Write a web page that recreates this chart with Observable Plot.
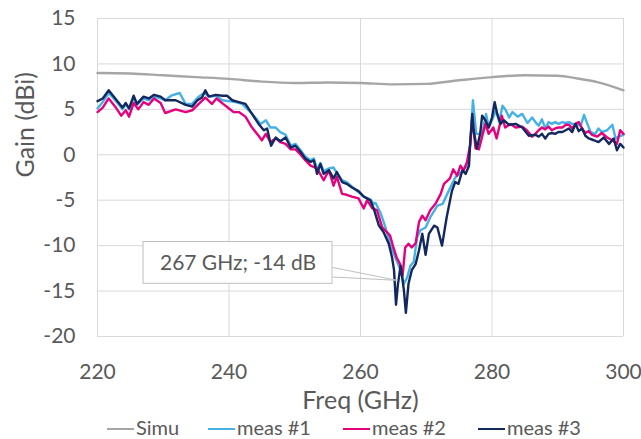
<!DOCTYPE html>
<html>
<head>
<meta charset="utf-8">
<script src="https://cdn.jsdelivr.net/npm/d3@7"></script>
<script src="https://cdn.jsdelivr.net/npm/@observablehq/plot@0.6"></script>
<style>
  html, body { margin: 0; padding: 0; background: #fff; overflow: hidden; }
  #chart { position: relative; width: 641px; height: 439px; }
  #legend { position: absolute; left: 0; top: 416px; width: 641px; height: 23px; font-family: Lato, sans-serif; font-size: 20px; color: #595959; line-height: 23px; }
  .item { position: absolute; top: 0; white-space: nowrap; }
  .sw { display: inline-block; width: 27px; height: 0; border-top: 2.5px solid; vertical-align: middle; margin-right: 2px; position: relative; top: -1px; }
</style>
</head>
<body>
<div id="chart"></div>
<script>
// ---- data ----
const freqTicks = [220, 240, 260, 280, 300];
const gainTicks = [-20, -15, -10, -5, 0, 5, 10, 15];

const simuFreq = [220, 225, 230, 235, 240, 245, 250, 255, 260, 265, 270, 275, 280, 285, 290, 293, 296, 300];
const simuGain = [9.0, 8.95, 8.75, 8.55, 8.35, 8.05, 7.9, 7.95, 7.9, 7.75, 7.8, 8.2, 8.55, 8.75, 8.7, 8.4, 8.0, 7.1];

const meas1Freq = [220,220.8,221.7,222.7,223.8,224.3,224.8,225.5,226,227,227.8,228.6,229.6,230.3,231.2,232.5,233.4,234.4,235.4,236.2,237.2,238,239,240,241,242,243,244,244.8,245.6,246.3,247.1,247.8,248.6,249.4,250.1,250.9,251.6,252.4,252.9,253.4,253.9,254.4,255.2,255.9,256.4,257.2,257.9,258.7,259.7,260.5,261.5,262,262.3,263.1,263.8,264.5,265.3,266.1,266.6,267.1,267.6,268.1,268.6,269.1,269.9,270.6,271.7,272.5,273.4,274.4,275.5,276.3,276.7,277.1,277.6,278.2,278.7,279.1,279.5,280,280.6,281.1,281.6,282.1,282.6,283.1,283.9,284.6,285.4,286.1,286.6,287.1,287.6,288.1,288.6,289.1,289.6,290.1,290.7,291.2,291.7,292.2,292.7,293.5,294,294.5,295,295.7,296.2,296.7,297.5,298.3,298.8,299.3,300];
const meas1Gain = [5.1,5.8,6.8,6.0,5.0,5.6,5.0,6.3,5.5,6.2,6.0,6.4,6.2,6.0,6.5,6.8,5.6,5.6,6.4,6.8,6.4,6.5,6.0,5.9,5.8,5.6,4.9,4.1,3.4,3.8,3.0,3.0,2.5,2.2,1.0,1.2,0.5,-0.2,-0.6,-0.4,-1.6,-0.9,-1.8,-1.5,-1.4,-2.0,-2.8,-3.0,-3.5,-4.1,-4.6,-4.9,-5.4,-5.3,-6.5,-8.0,-9.8,-11.3,-12.7,-14.2,-13.5,-12.2,-11.8,-9.1,-8.3,-8.0,-6.9,-5.6,-5.4,-4.0,-2.5,-1.8,-1.1,1.0,6.0,2.3,2.3,3.0,4.5,3.0,3.8,4.9,3.6,5.4,4.9,4.1,4.7,4.2,4.5,3.5,4.1,3.6,3.2,3.9,2.9,3.6,3.4,3.6,3.4,3.6,3.5,3.6,3.4,3.4,3.2,4.4,3.4,2.5,2.3,2.9,2.5,2.7,3.3,1.8,2.0,2.2];

const meas2Freq = [220,220.8,221.7,222.7,223.6,224.3,224.8,225.5,226.2,227,227.8,228.6,229.6,230.3,231.9,233.4,234.4,235.4,236.4,237.4,238.1,239.1,240,240.7,241.5,242.5,243.5,244.5,245,245.6,246.3,247.1,247.8,248.6,249.4,250.1,250.9,251.6,252.4,253.4,254.4,255.2,255.9,256.4,257.2,257.9,258.7,259.7,260.2,260.5,261,261.8,262.5,263.3,264,264.5,265,265.5,266,266.4,266.8,267.3,267.8,268.4,268.9,269.4,269.9,270.6,271.4,272.2,272.7,273.6,274.1,274.7,275.2,275.7,276.2,276.7,277,277.5,278,278.5,279,279.5,280.2,280.7,281.5,282,282.8,283.6,284.6,285.3,286.1,286.6,287.1,287.6,288.1,288.6,289.1,289.6,290.1,290.7,291.2,291.7,292.2,292.7,293.2,293.7,294.2,294.7,295.2,296,296.7,297.5,298.3,299,299.5,300];
const meas2Gain = [4.7,5.2,6.2,5.3,4.3,4.9,4.2,5.7,5.0,5.8,5.5,6.2,5.7,4.6,5.0,4.7,4.9,5.6,6.3,5.6,6.2,5.6,5.1,4.7,4.7,4.2,3.0,2.1,1.6,2.3,1.4,1.8,1.4,1.2,0.6,0.6,0.0,-0.6,-1.2,-1.5,-2.8,-1.7,-3.4,-2.4,-4.3,-4.4,-4.6,-4.8,-5.5,-5.9,-5.0,-5.9,-6.1,-8.0,-8.5,-8.9,-10.2,-11.3,-12.0,-13.3,-10.2,-9.8,-10.2,-9.7,-7.4,-6.7,-7.2,-6.1,-5.4,-4.3,-3.2,-2.6,-1.6,-2.3,-1.2,-1.7,-0.8,1.2,4.1,0.7,0.6,2.0,3.4,2.3,3.0,1.8,4.3,3.0,3.4,3.0,3.1,2.7,2.0,2.3,2.7,3.0,2.8,3.1,2.7,2.9,3.0,3.0,3.3,3.3,2.9,3.4,3.6,2.9,2.4,2.6,2.2,2.0,2.4,1.9,1.6,1.2,2.7,2.3];

const meas3Freq = [220,220.8,221.7,222.7,223.8,224.3,224.8,225.5,226,227,227.8,228.6,229.6,230.3,231.9,233.4,234.4,235.2,235.9,236.4,236.9,238,239,239.7,240.5,241.5,242.5,243.5,244.5,245.3,245.8,246.4,247.1,247.8,248.6,249.4,250.1,250.9,251.6,252.4,252.9,253.4,253.9,254.4,255.2,255.9,256.4,257.2,257.9,258.7,259.7,260.5,261.5,262,262.8,263.5,264.3,264.8,265.1,265.4,265.7,266.1,266.6,266.9,267.3,267.8,268.4,268.9,269.4,269.9,270.4,271.2,271.7,272.4,273.1,273.9,274.4,274.9,275.5,276,276.5,276.7,277,277.2,277.7,278.2,278.5,279,279.5,280,280.4,280.8,281.3,281.8,282.6,283.6,284.6,285.6,286.6,287.1,287.6,288.1,288.6,289.1,289.6,290.1,290.7,291.2,291.7,292.2,292.7,293.2,293.7,294.2,294.7,295.5,296.2,297,297.8,298.5,299,299.5,300];
const meas3Gain = [5.9,6.2,7.1,6.2,5.2,5.7,5.1,6.5,5.6,6.4,6.2,6.6,6.4,6.0,6.0,5.5,5.3,6.0,6.3,7.1,6.4,6.6,6.5,6.5,6.0,5.8,5.6,4.5,3.4,2.7,2.9,1.0,1.9,1.5,1.9,0.8,1.0,0.3,-0.4,-0.8,-0.6,-2.1,-1.0,-2.1,-1.7,-2.6,-1.9,-3.0,-3.2,-3.6,-4.0,-4.6,-5.0,-5.9,-7.8,-8.5,-9.8,-11.3,-12.7,-16.5,-14.2,-12.2,-14.9,-17.4,-14.2,-12.7,-12.0,-10.5,-8.7,-11.0,-8.7,-7.8,-8.0,-10.0,-6.9,-4.0,-3.0,-3.2,-1.7,-2.1,-1.2,1.6,4.5,2.7,0.7,2.3,4.3,3.8,3.0,4.1,5.8,4.5,3.4,3.8,3.3,3.4,3.0,2.1,2.2,2.0,2.3,1.8,2.3,2.4,2.3,2.5,2.5,2.7,2.9,2.5,3.4,2.6,2.9,2.1,1.8,1.6,1.4,1.9,1.2,1.8,0.5,1.2,0.8];

const seriesNames = ["Simu", "meas #1", "meas #2", "meas #3"];
const seriesColors = ["#a6a6a6", "#45b1e6", "#e5007d", "#13285f"];

// annotation (callout)
const calloutText = ["267 GHz; -14 dB"];
const calloutBoxFreq = [227.0, 255.74];
const calloutBoxGain = [-9.6, -14.2];
const calloutTipFreq = 265.6;
const calloutTipGain = -13.82;
const calloutLeaderGain = [-12.4, -13.45];

// ---- build tables ----
const toRows = (fs, gs) => fs.map((f, i) => ({f, g: gs[i]}));
const simu = toRows(simuFreq, simuGain);
const m1 = toRows(meas1Freq, meas1Gain);
const m2 = toRows(meas2Freq, meas2Gain);
const m3 = toRows(meas3Freq, meas3Gain);

const leaders = calloutLeaderGain.map(g => ({x1: calloutBoxFreq[1], y1: g, x2: calloutTipFreq, y2: calloutTipGain}));
const box = [{x1: calloutBoxFreq[0], x2: calloutBoxFreq[1], y1: calloutBoxGain[0], y2: calloutBoxGain[1], t: calloutText[0]}];

const fmt = d => String(d);

const chart = Plot.plot({
  width: 641,
  height: 412,
  marginLeft: 97,
  marginRight: 18,
  marginTop: 18,
  marginBottom: 76,
  style: {fontFamily: "Lato, sans-serif", fontSize: "21px", color: "#595959", background: "#fff", overflow: "visible"},
  x: {domain: [220, 300], ticks: freqTicks, tickSize: 0, tickPadding: 28, tickFormat: fmt, label: null},
  y: {domain: [-20, 15], ticks: gainTicks, tickSize: 0, tickPadding: 22, tickFormat: fmt, label: null},
  marks: [
    Plot.ruleX(freqTicks, {stroke: "#d9d9d9", strokeWidth: 1}),
    Plot.ruleY(gainTicks, {stroke: "#d9d9d9", strokeWidth: 1}),
    Plot.line(simu, {x: "f", y: "g", stroke: seriesColors[0], strokeWidth: 2.4, curve: "monotone-x"}),
    Plot.line(m1, {x: "f", y: "g", stroke: seriesColors[1], strokeWidth: 2.4, strokeLinejoin: "round"}),
    Plot.line(m2, {x: "f", y: "g", stroke: seriesColors[2], strokeWidth: 2.4, strokeLinejoin: "round"}),
    Plot.line(m3, {x: "f", y: "g", stroke: seriesColors[3], strokeWidth: 2.4, strokeLinejoin: "round"}),
    Plot.link(leaders, {x1: "x1", y1: "y1", x2: "x2", y2: "y2", stroke: "#bfbfbf", strokeWidth: 1}),
    Plot.rect(box, {x1: "x1", x2: "x2", y1: "y1", y2: "y2", fill: "#fff", stroke: "#bfbfbf", strokeWidth: 1}),
    Plot.text(box, {x: d => (d.x1 + d.x2) / 2, y: d => (d.y1 + d.y2) / 2, text: "t", fill: "#595959", fontSize: 21}),
    Plot.text(["Gain (dBi)"], {text: d => d, frameAnchor: "left", dx: -72, rotate: -90, fill: "#595959", fontSize: 25}),
    Plot.text(["Freq (GHz)"], {text: d => d, frameAnchor: "bottom", dy: 72, fill: "#595959", fontSize: 25})
  ]
});

const root = document.getElementById("chart");
root.appendChild(chart);

const legend = document.createElement("div");
legend.id = "legend";
const lefts = [107, 208, 343, 478];
seriesNames.forEach((name, i) => {
  const it = document.createElement("span");
  it.className = "item";
  it.style.left = lefts[i] + "px";
  const sw = document.createElement("span");
  sw.className = "sw";
  sw.style.borderTopColor = seriesColors[i];
  it.appendChild(sw);
  it.appendChild(document.createTextNode(name));
  legend.appendChild(it);
});
root.appendChild(legend);
</script>
</body>
</html>
